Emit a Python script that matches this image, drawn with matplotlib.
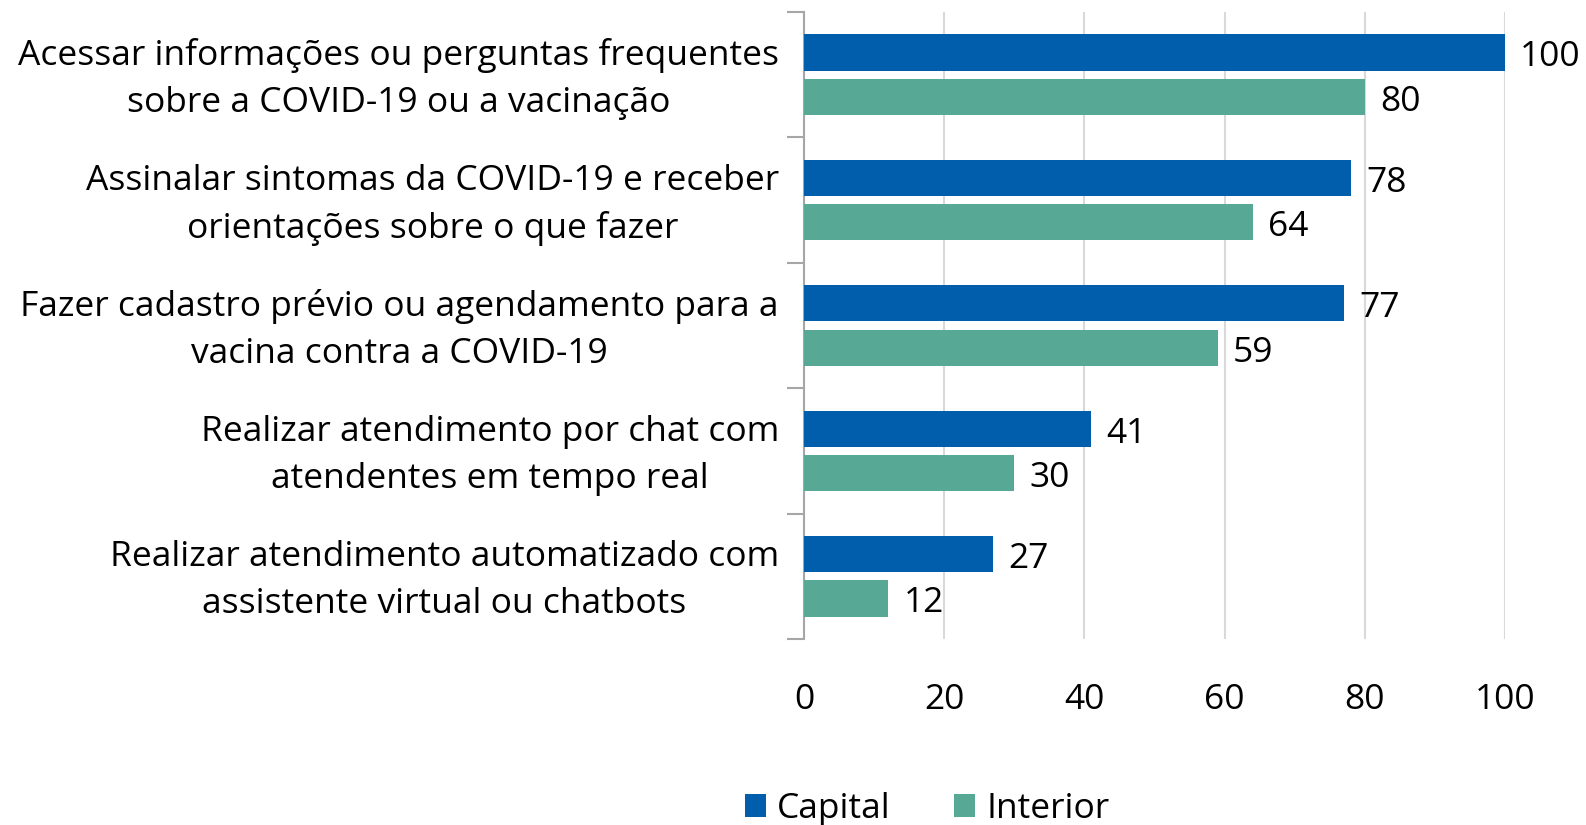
import matplotlib
matplotlib.use("Agg")
import matplotlib.pyplot as plt
import matplotlib.transforms as mtransforms
import numpy as np

categories = [
    "Acessar informações ou perguntas frequentes\nsobre a COVID-19 ou a vacinação",
    "Assinalar sintomas da COVID-19 e receber\norientações sobre o que fazer",
    "Fazer cadastro prévio ou agendamento para a\nvacina contra a COVID-19",
    "Realizar atendimento por chat com\natendentes em tempo real",
    "Realizar atendimento automatizado com\nassistente virtual ou chatbots",
]
capital = [100, 78, 77, 41, 27]
interior = [80, 64, 59, 30, 12]
series_names = ["Capital", "Interior"]
x_ticks = [0, 20, 40, 60, 80, 100]

plt.rcParams['font.family'] = ['Open Sans', 'DejaVu Sans']
FS = 25.5

W, H = 1586, 825
fig = plt.figure(figsize=(W/100, H/100), dpi=100)
left, right, top, bottom = 804, 1505, 12, 639
ax = fig.add_axes([left/W, 1-bottom/H, (right-left)/W, (bottom-top)/H])

y = np.arange(len(categories))
h = 0.29
off = 0.177
c_cap = "#005EAC"
c_int = "#57A895"
b1 = ax.barh(y - off, capital, height=h, color=c_cap, label=series_names[0], zorder=3)
b2 = ax.barh(y + off, interior, height=h, color=c_int, label=series_names[1], zorder=3)

for bars, vals in ((b1, capital), (b2, interior)):
    for rect, v in zip(bars, vals):
        ax.annotate(f"{v}", (v, rect.get_y() + rect.get_height()/2),
                    xytext=(11, -3.5), textcoords="offset points",
                    ha="left", va="center", fontsize=FS, color="black")

ax.set_xlim(0, 100)
ax.set_ylim(len(categories) - 0.5, -0.5)
ax.set_xticks(x_ticks)
ax.set_xticklabels([str(t) for t in x_ticks], fontsize=FS)
ax.tick_params(axis='x', length=0, pad=32)
ax.xaxis.grid(True, color="#D9D9D9", linewidth=1.5, zorder=0)
ax.set_axisbelow(True)

ax.set_yticks(y)
ax.set_yticklabels(categories, fontsize=FS, ha="right", multialignment="center",
                   linespacing=1.5)
ax.tick_params(axis='y', length=0, pad=18)
shift = mtransforms.ScaledTranslation(0, 0.06, fig.dpi_scale_trans)
for lab in ax.get_yticklabels():
    lab.set_transform(lab.get_transform() + shift)
ax.set_yticks(np.arange(-0.5, len(categories)), minor=True)
ax.tick_params(axis='y', which='minor', length=12, width=1.5, color="#A6A6A6")

for s in ("top", "right", "bottom"):
    ax.spines[s].set_visible(False)
ax.spines["left"].set_color("#A6A6A6")
ax.spines["left"].set_linewidth(1.5)

fig.legend(handles=[b1, b2], labels=series_names, loc="center",
           bbox_to_anchor=(927/W, 1-809/H), ncol=2, frameon=False,
           fontsize=FS, handlelength=0.6, handleheight=0.6, handletextpad=0.3,
           columnspacing=1.8)

fig.savefig("out.png", dpi=100)
